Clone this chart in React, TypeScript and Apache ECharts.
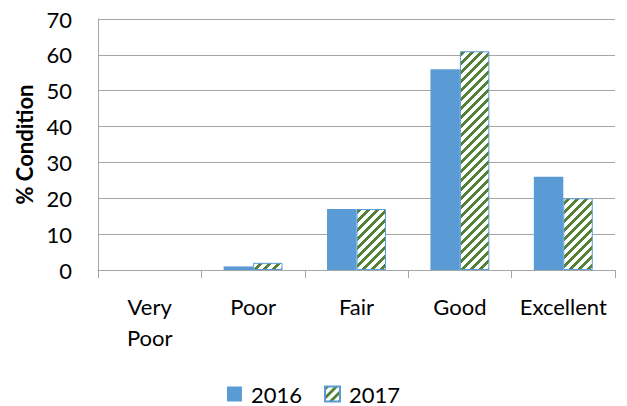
import React, { useEffect, useRef } from "react";
import * as echarts from "echarts";

const categories = ["Very Poor", "Poor", "Fair", "Good", "Excellent"];
const values2016 = [0, 1, 17, 56, 26];
const values2017 = [0, 2, 17, 61, 20];
const yTicks = { min: 0, max: 70, interval: 10 };
const seriesNames = ["2016", "2017"];

const FONT = "Lato, 'Open Sans', sans-serif";
const FS = 22;

function makeStripes(): HTMLCanvasElement {
  const P = 9;
  const c = document.createElement("canvas");
  c.width = P;
  c.height = P;
  const ctx = c.getContext("2d")!;
  ctx.fillStyle = "#ffffff";
  ctx.fillRect(0, 0, P, P);
  ctx.fillStyle = "#538135";
  for (let x = 0; x < P; x++) {
    for (let y = 0; y < P; y++) {
      if ((x + y) % P < 4) ctx.fillRect(x, y, 1, 1);
    }
  }
  return c;
}

export default function App() {
  const ref = useRef<HTMLDivElement>(null);
  useEffect(() => {
    if (!ref.current) return;
    const chart = echarts.init(ref.current, undefined, { renderer: "svg" });
    const pattern = { image: makeStripes(), repeat: "repeat" };
    chart.setOption({
      animation: false,
      textStyle: { fontFamily: FONT },
      grid: { left: 98, right: 12, top: 19, bottom: 136 },
      legend: {
        top: 378,
        left: "center",
        itemWidth: 15,
        itemHeight: 15,
        itemGap: 22,
        icon: "rect",
        textStyle: { fontSize: FS, color: "#000", fontFamily: FONT, padding: [0, 0, 0, 4] },
        data: seriesNames,
      },
      xAxis: {
        type: "category",
        data: categories,
        axisLine: { lineStyle: { color: "#a6a6a6", width: 1 } },
        axisTick: { show: true, length: 8, lineStyle: { color: "#a6a6a6" } },
        axisLabel: {
          interval: 0,
          fontSize: FS,
          color: "#000",
          fontFamily: FONT,
          margin: 21,
          lineHeight: 31,
          formatter: (v: string) => v.replace(" ", "\n"),
        },
      },
      yAxis: {
        type: "value",
        min: yTicks.min,
        max: yTicks.max,
        interval: yTicks.interval,
        name: "% Condition",
        nameLocation: "middle",
        nameGap: 59,
        nameTextStyle: { fontSize: FS, fontWeight: "bold", color: "#000", fontFamily: FONT },
        axisLine: { show: true, lineStyle: { color: "#a6a6a6" } },
        axisTick: { show: false },
        axisLabel: { fontSize: FS, color: "#000", fontFamily: FONT, margin: 26 },
        splitLine: { lineStyle: { color: "#a6a6a6", width: 1 } },
      },
      series: [
        {
          name: seriesNames[0],
          type: "bar",
          data: values2016,
          barGap: "0%",
          barCategoryGap: "43%",
          itemStyle: { color: "#5b9bd5" },
        },
        {
          name: seriesNames[1],
          type: "bar",
          data: values2017.map((v) =>
            v === 0 ? { value: v, itemStyle: { borderWidth: 0 } } : v
          ),
          barGap: "0%",
          barCategoryGap: "43%",
          itemStyle: { color: pattern, borderColor: "#5b9bd5", borderWidth: 1 },
        },
      ],
    });
    return () => chart.dispose();
  }, []);
  return (
    <div
      ref={ref}
      style={{ position: "absolute", left: 0, top: 0, width: 627, height: 406 }}
    />
  );
}
